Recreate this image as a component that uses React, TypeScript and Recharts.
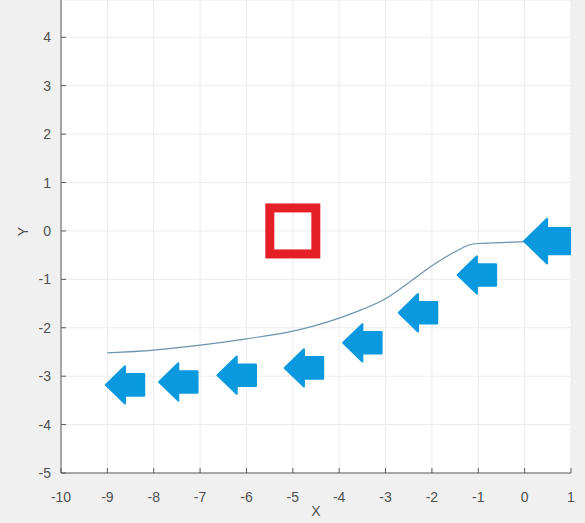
import React from "react";
import {
  ComposedChart,
  Line,
  Scatter,
  XAxis,
  YAxis,
  CartesianGrid,
} from "recharts";

// ---- data ----
const pathX = [-9, -8, -7, -6, -5, -4.5, -4, -3.5, -3, -2.5, -2, -1.5, -1.2, -1, -0.5, 0];
const pathY = [-2.52, -2.46, -2.36, -2.23, -2.07, -1.95, -1.8, -1.62, -1.4, -1.07, -0.72, -0.43, -0.29, -0.26, -0.24, -0.22];

const arrowX = [-8.62, -7.47, -6.21, -4.76, -3.5, -2.3, -1.03, 0.485];
const arrowY = [-3.18, -3.12, -2.98, -2.83, -2.31, -1.69, -0.91, -0.21];
const arrowLen = [0.83, 0.83, 0.83, 0.83, 0.83, 0.83, 0.83, 1.0];

const targetX = [-5];
const targetY = [0];

const xTicks = [-10, -9, -8, -7, -6, -5, -4, -3, -2, -1, 0, 1];
const yTicks = [-5, -4, -3, -2, -1, 0, 1, 2, 3, 4];

// ---- layout ----
const W = 585;
const H = 523;
const M = { top: 0, right: 14, left: 20, bottom: 20 };
const Y_AXIS_W = 41;
const X_AXIS_H = 30;
const PLOT_W = W - M.left - M.right - Y_AXIS_W;
const X_MIN = -10;
const X_MAX = 1;
const PX_PER_X = PLOT_W / (X_MAX - X_MIN);
const TICK_GAP_X = 19;
const TICK_GAP_Y = 10;
const FONT = "'Liberation Sans', Arial, sans-serif";
const TICK_COLOR = "#505050";
const AXIS_COLOR = "#5a5a5a";

const pathData = pathX.map((x, i) => ({ x, y: pathY[i] }));
const arrowData = arrowX.map((x, i) => ({ x, y: arrowY[i], u: arrowLen[i] }));
const targetData = targetX.map((x, i) => ({ x, y: targetY[i] }));

const XTick = (props: any) => {
  const { x, y, payload } = props;
  const ay = y - TICK_GAP_X;
  return (
    <g>
      <line x1={x} x2={x} y1={ay} y2={ay - 5} stroke={AXIS_COLOR} strokeWidth={1} />
      <text
        x={x}
        y={y + 10}
        textAnchor="middle"
        fontFamily={FONT}
        fontSize={14}
        fill={TICK_COLOR}
      >
        {payload.value}
      </text>
    </g>
  );
};

const YTick = (props: any) => {
  const { x, y, payload } = props;
  const ax = x + TICK_GAP_Y;
  return (
    <g>
      <line x1={ax} x2={ax + 5} y1={y} y2={y} stroke={AXIS_COLOR} strokeWidth={1} />
      <text
        x={x}
        y={y + 5}
        textAnchor="end"
        fontFamily={FONT}
        fontSize={14}
        fill={TICK_COLOR}
      >
        {payload.value}
      </text>
    </g>
  );
};

const ArrowShape = (props: any) => {
  const { cx, cy, payload } = props;
  if (cx == null || cy == null) return <g />;
  const w = payload.u * PX_PER_X;
  const h = w * 0.97;
  const left = cx - w / 2;
  const right = cx + w / 2;
  const hb = left + w * 0.5;
  const sh = h * 0.29;
  const pts = [
    [left, cy],
    [hb, cy - h / 2],
    [hb, cy - sh],
    [right, cy - sh],
    [right, cy + sh],
    [hb, cy + sh],
    [hb, cy + h / 2],
  ]
    .map((p) => p.join(","))
    .join(" ");
  return <polygon points={pts} fill="#0a99de" stroke="#0a99de" strokeWidth={2} strokeLinejoin="round" />;
};

const SquareShape = (props: any) => {
  const { cx, cy } = props;
  if (cx == null || cy == null) return <g />;
  const s = 46;
  return (
    <rect
      x={cx - s / 2}
      y={cy - s / 2}
      width={s}
      height={s}
      fill="none"
      stroke="#e51f26"
      strokeWidth={9}
    />
  );
};

export default function App() {
  return (
    <div
      style={{
        position: "absolute",
        left: 0,
        top: 0,
        width: W,
        height: H,
        background: "#f0f0f0",
      }}
    >
      <ComposedChart width={W} height={H} margin={M}>
        <CartesianGrid stroke="#ebebeb" fill="#ffffff" fillOpacity={1} />
        <XAxis
          type="number"
          dataKey="x"
          domain={[X_MIN, X_MAX]}
          ticks={xTicks}
          allowDataOverflow
          height={X_AXIS_H}
          tickSize={0}
          tickMargin={TICK_GAP_X}
          tick={<XTick />}
          axisLine={{ stroke: AXIS_COLOR }}
          interval={0}
          label={{
            value: "X",
            position: "bottom",
            offset: 3,
            style: { fontFamily: FONT, fontSize: 14, fill: TICK_COLOR },
          }}
        />
        <YAxis
          type="number"
          dataKey="y"
          domain={[-5, 4.77]}
          ticks={yTicks}
          allowDataOverflow
          width={Y_AXIS_W}
          tickSize={0}
          tickMargin={TICK_GAP_Y}
          tick={<YTick />}
          axisLine={{ stroke: AXIS_COLOR }}
          interval={0}
          label={{
            value: "Y",
            angle: -90,
            position: "center",
            dx: -17,
            dy: -5,
            style: { fontFamily: FONT, fontSize: 14, fill: TICK_COLOR },
          }}
        />
        <Line
          data={pathData}
          dataKey="y"
          type="monotone"
          stroke="#6a93b0"
          strokeWidth={1.2}
          dot={false}
          isAnimationActive={false}
        />
        <Scatter
          data={arrowData}
          dataKey="y"
          shape={<ArrowShape />}
          isAnimationActive={false}
        />
        <Scatter
          data={targetData}
          dataKey="y"
          shape={<SquareShape />}
          isAnimationActive={false}
        />
      </ComposedChart>
    </div>
  );
}
